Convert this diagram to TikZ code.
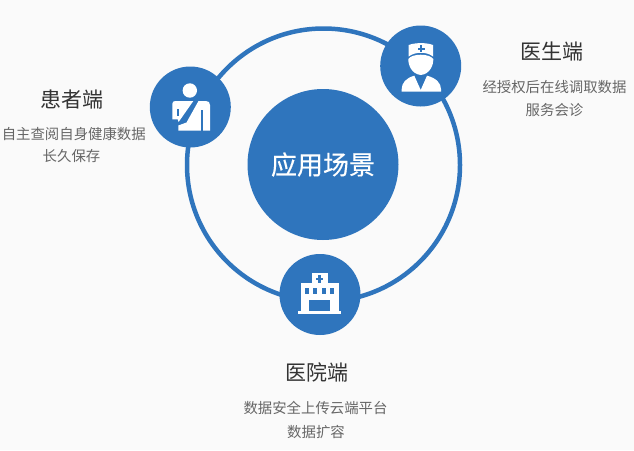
\documentclass[tikz,border=0pt]{standalone}
\usepackage{fontspec}
\setmainfont{Noto Sans CJK SC}
\newfontfamily\hubfont[FakeBold=0.25]{Noto Sans CJK SC}
\definecolor{hub}{HTML}{2F75BD}
\definecolor{bgc}{HTML}{FAFAFA}
\definecolor{titlec}{HTML}{333333}
\definecolor{descc}{HTML}{666666}
\tikzset{
  badge/.style={circle,fill=hub,draw=none,minimum size=81pt,inner sep=0pt},
  hubnode/.style={circle,fill=hub,draw=none,minimum size=151pt,inner sep=0pt,text=white,font=\hubfont\fontsize{26}{26}\selectfont},
  titletext/.style={text=titlec,font=\fontsize{21}{21}\selectfont,inner sep=0pt},
  desctext/.style={text=descc,font=\fontsize{14.4}{14.4}\selectfont,inner sep=0pt},
  ring/.style={draw=hub,line width=4.5pt},
  ico/.style={fill=white,draw=none},
  icoblue/.style={fill=hub,draw=none}
}
\begin{document}
\begin{tikzpicture}[x=1pt,y=-1pt]
\useasboundingbox (0,0) rectangle (634,450);
\fill[bgc] (0,0) rectangle (634,450);
\coordinate (c) at (323.5,165);
\draw[ring] (c) circle (136.5pt);
\node[hubnode] (hub) at (323,164.5) {应用场景};
\node[badge] (pat) at (190.3,107) {};
\node[badge] (doc) at (420.7,66) {};
\node[badge] (hos) at (320,294.5) {};
% patient icon
\fill[ico] (189.8,90.5) circle (7.2pt);
\fill[ico] (172.3,104) .. controls (172.3,102) and (173.5,101) .. (175.5,101) -- (193.3,101) -- (178.6,122) -- (177.7,119.3) -- (172.3,119.3) -- cycle;
\fill[ico] (198.5,101) -- (206,101) .. controls (208.5,101) and (210,102.5) .. (210,105) -- (210,130.7) -- (178.3,130.7) -- (178.3,125.5) -- (186.5,122.5) -- cycle;
\fill[icoblue] (176.7,109.3) rectangle (179.2,116);
\fill[icoblue] (201.2,110) rectangle (203,130.7);
% doctor icon
\fill[ico] (408.7,45) .. controls (415,42.5) and (427,42.5) .. (433,45) -- (433,56.5) .. controls (427,51.5) and (415,51.5) .. (408.7,56.5) -- cycle;
\fill[icoblue] (420,45.3) rectangle (422,52);
\fill[icoblue] (417.5,47.7) rectangle (424.5,49.7);
\fill[ico] (408.3,59) .. controls (412,53.3) and (429.5,53.3) .. (433.3,59) .. controls (433.5,65) and (430,74) .. (420.8,75) .. controls (411.5,74) and (408.2,65) .. (408.3,59) -- cycle;
\fill[ico] (414.3,75.7) -- (420.7,90) -- (427,75.7) .. controls (436,78) and (441,83) .. (441,89) -- (441,91.7) -- (401.7,91.7) -- (401.7,89) .. controls (401.7,83) and (406,78) .. (414.3,75.7) -- cycle;
% hospital icon
\fill[ico] (311.7,273) rectangle (328,283);
\fill[ico] (301,283) rectangle (338.5,311.5);
\fill[ico] (298.3,311.3) rectangle (340.7,314.3);
\fill[icoblue] (318.3,275) rectangle (320.6,282.5);
\fill[icoblue] (315.7,277.6) rectangle (323.2,279.9);
\foreach \i in {305,313.3,321.7,330}{\fill[icoblue] (\i,288) rectangle ++(4,6);}
\fill[icoblue] (309,299.7) rectangle (330,311.3);
% labels
\node[titletext] (t1) at (71.5,99.5) {患者端};
\node[desctext] (d1a) at (73.8,134.5) {自主查阅自身健康数据};
\node[desctext] (d1b) at (71.5,156.5) {长久保存};
\node[titletext] (t2) at (552,51.5) {医生端};
\node[desctext] (d2a) at (554.5,87) {经授权后在线调取数据};
\node[desctext] (d2b) at (554.5,110) {服务会诊};
\node[titletext] (t3) at (317,372.5) {医院端};
\node[desctext] (d3a) at (315.5,407.5) {数据安全上传云端平台};
\node[desctext] (d3b) at (316,432) {数据扩容};
\end{tikzpicture}
\end{document}
